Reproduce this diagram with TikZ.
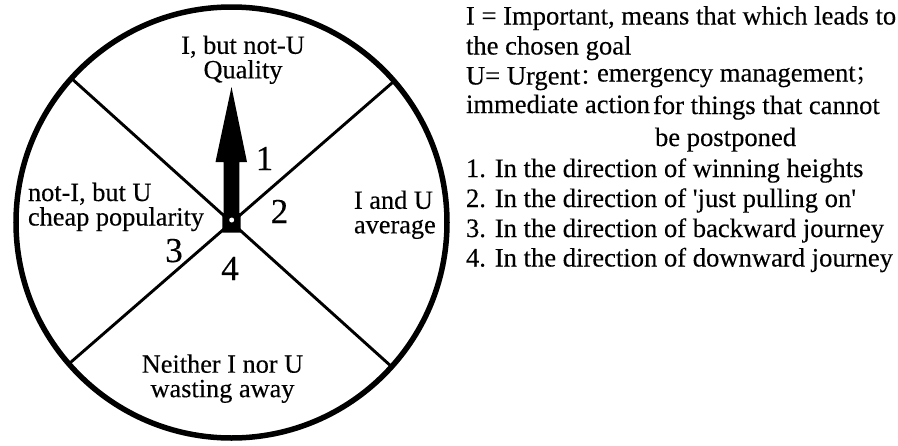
\documentclass[tikz,border=0pt]{standalone}
\usepackage{fontspec}
\setmainfont{Liberation Serif}
\newfontfamily\tf[Ligatures=TeXOff,FakeBold=0.3]{Liberation Serif}
\newfontfamily\cjk{Noto Sans CJK SC}
\tikzset{
  lbl/.style={inner sep=0pt, outer sep=0pt, anchor=base, align=center, font=\tf\fontsize{26.3}{24.5}\selectfont},
  lblw/.style={lbl, anchor=base west, align=left},
  txt/.style={inner sep=0pt, outer sep=0pt, anchor=base west, font=\tf\fontsize{26.6}{30}\selectfont},
  num/.style={inner sep=0pt, outer sep=0pt, anchor=base, font=\tf\fontsize{35}{35}\selectfont},
  spoke/.style={line width=2.9pt},
  rim/.style={draw, circle, line width=5.5pt, minimum size=431pt, inner sep=0pt, outer sep=0pt},
}
\begin{document}
\begin{tikzpicture}[x=1pt,y=-1pt]
\useasboundingbox (0,0) rectangle (898,445);
% wheel
\node[rim] (wheel) at (231.5,222.5) {};
\coordinate (hub) at (231.5,222.5);
\draw[spoke] (hub) -- (wheel.41.5);
\draw[spoke] (hub) -- (wheel.138.5);
\draw[spoke] (hub) -- (wheel.221.5);
\draw[spoke] (hub) -- (wheel.318.5);
% arrow
\fill (231.5,87) -- (247,162) -- (239.3,162) -- (239.3,213) -- (240.7,213) -- (240.7,232.5)
  -- (222.3,232.5) -- (222.3,213) -- (223.5,213) -- (223.5,162) -- (215.5,162) -- cycle;
\node[circle, fill=white, minimum size=5pt, inner sep=0pt] (pivot) at (231.7,220) {};
% quadrant labels (anchor = baseline of the last line)
\node[lbl] (q1) at (243,78.3) {I, but not-U\\Quality};
\node[lblw] (q3) at (28,225.5) {not-I, but U\\cheap popularity};
\node[lblw] (q2) at (354,233.3) {I and U\\average};
\node[lbl] (q4) at (222.5,397.2) {Neither I nor U\\wasting away};
% direction numbers
\node[num] (n1) at (264.5,170) {1};
\node[num] (n2) at (279.5,223) {2};
\node[num] (n3) at (174,262) {3};
\node[num] (n4) at (230,280) {4};
% legend
\node[txt] (l1) at (466,24.5) {I = Important, means that which leads to};
\node[txt] (l2) at (466,54.5) {the chosen goal};
\node[txt] (l3) at (466,84.5) {U= Urgent{\cjk\fontsize{22}{22}\selectfont ：}};
\node[txt] (l3b) at (597,81.5) {emergency management{\cjk\fontsize{22}{22}\selectfont ；}};
\node[txt] (l4) at (466,113) {immediate action};
\node[txt] (l4b) at (653,114) {for things that cannot};
\node[txt] (l5) at (655,146) {be postponed};
\node[txt] (l6) at (466,177) {1. In the direction of winning heights};
\node[txt] (l7) at (466,207) {2. In the direction of 'just pulling on'};
\node[txt] (l8) at (466,237) {3. In the direction of backward journey};
\node[txt] (l9) at (466,266.5) {4. In the direction of downward journey};
\end{tikzpicture}
\end{document}
